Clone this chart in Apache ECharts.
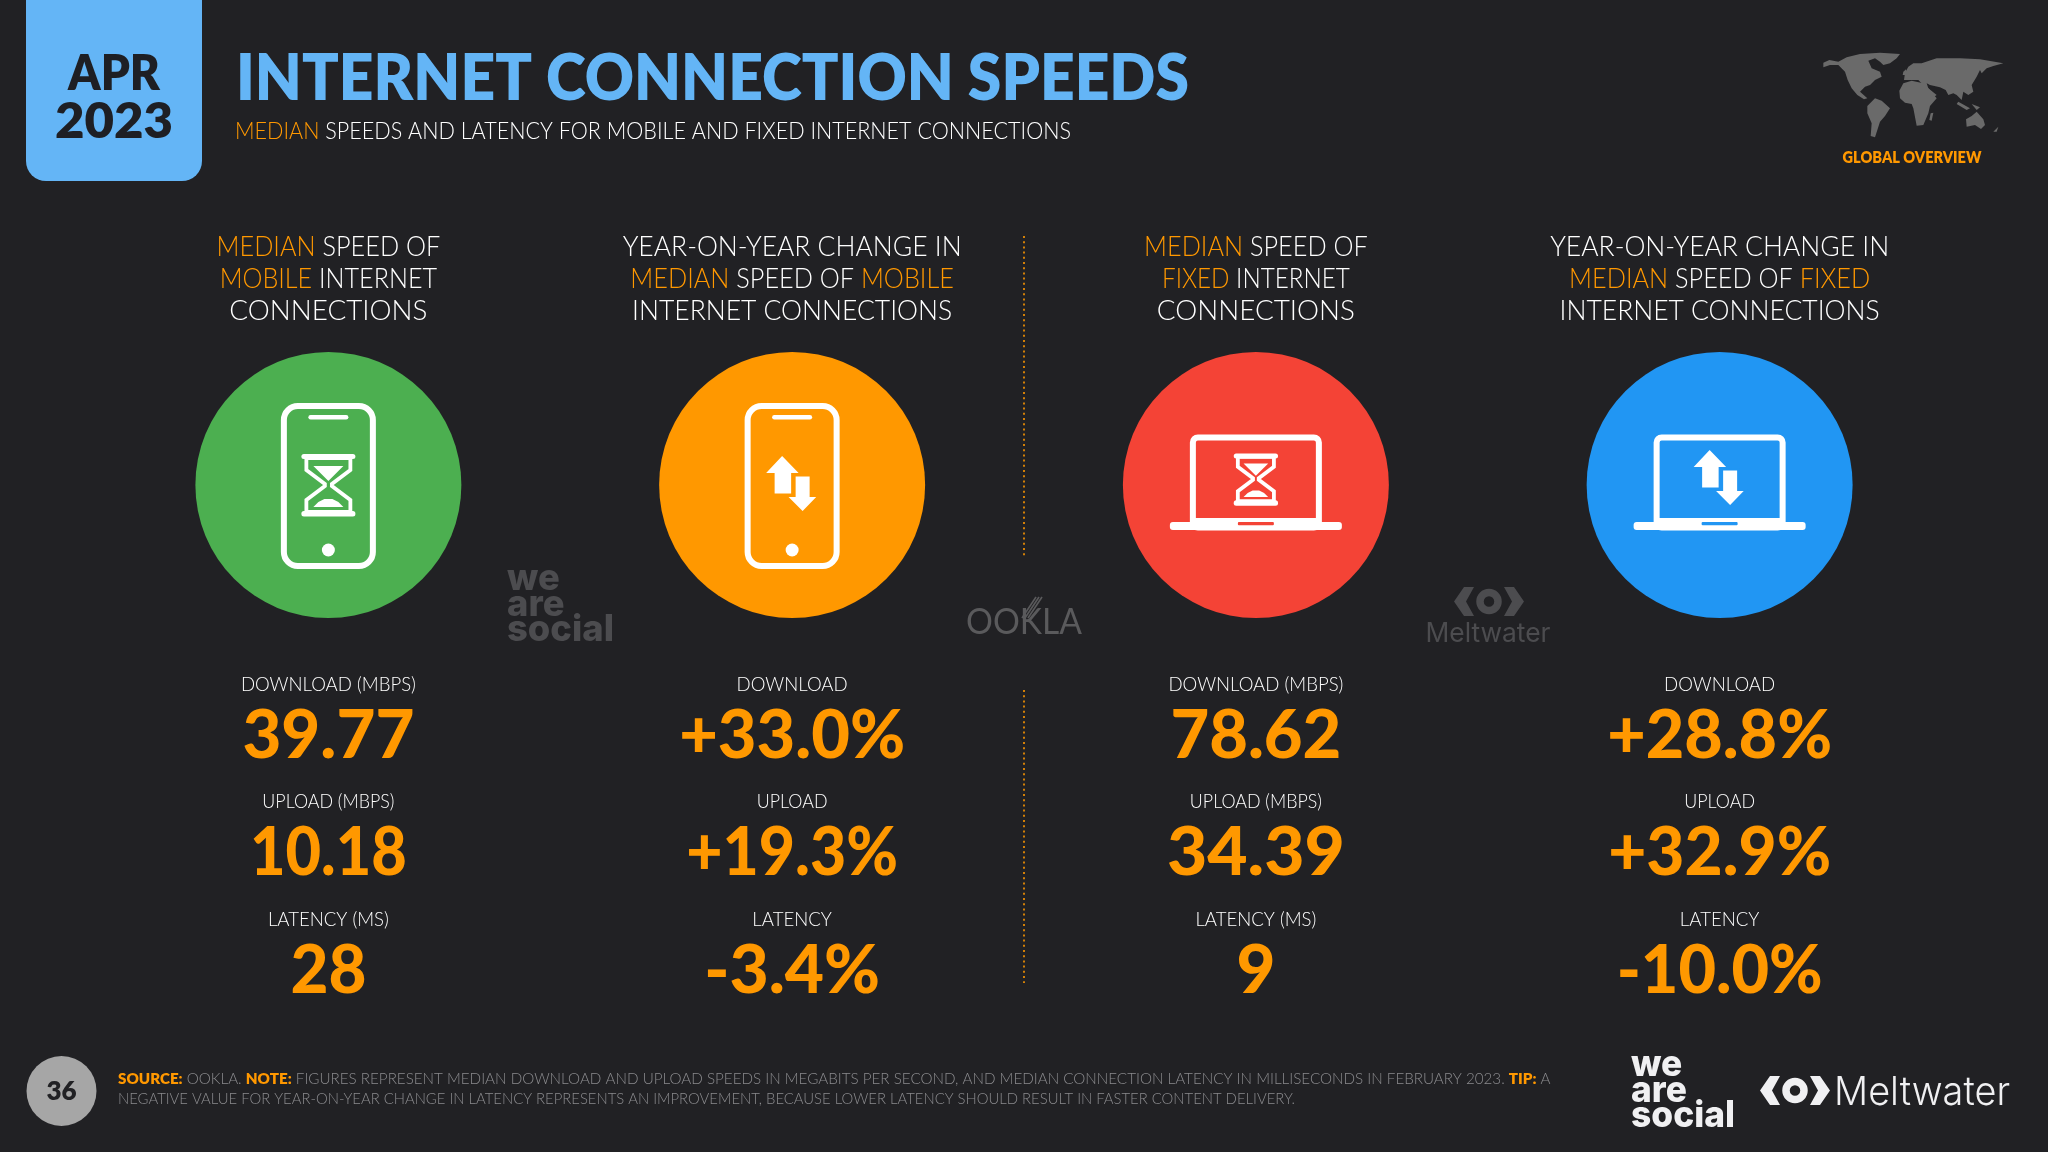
<!DOCTYPE html>
<html><head><meta charset="utf-8">
<style>html,body{margin:0;padding:0;background:#212124}#c{width:2048px;height:1152px}</style>
<script src="https://cdn.jsdelivr.net/npm/echarts@6/dist/echarts.min.js"></script>
</head><body><div id="c"></div>
<script>
// ---- data ----
const columns = ['mobile speed', 'mobile change', 'fixed speed', 'fixed change'];
const rows = ['download', 'upload', 'latency'];
const circleColors = ['#4caf50', '#ff9800', '#f44336', '#2196f3'];
const iconKinds = ['phone-hourglass', 'phone-arrows', 'laptop-hourglass', 'laptop-arrows'];
const headings = [
  ['{o|MEDIAN}{w| SPEED OF}', '{o|MOBILE}{w| INTERNET}', '{w|CONNECTIONS}'],
  ['{w|YEAR-ON-YEAR CHANGE IN}', '{o|MEDIAN}{w| SPEED OF }{o|MOBILE}', '{w|INTERNET CONNECTIONS}'],
  ['{o|MEDIAN}{w| SPEED OF}', '{o|FIXED}{w| INTERNET}', '{w|CONNECTIONS}'],
  ['{w|YEAR-ON-YEAR CHANGE IN}', '{o|MEDIAN}{w| SPEED OF }{o|FIXED}', '{w|INTERNET CONNECTIONS}']
];
const metricDownload = ['DOWNLOAD (MBPS)', 'DOWNLOAD', 'DOWNLOAD (MBPS)', 'DOWNLOAD'];
const metricUpload = ['UPLOAD (MBPS)', 'UPLOAD', 'UPLOAD (MBPS)', 'UPLOAD'];
const metricLatency = ['LATENCY (MS)', 'LATENCY', 'LATENCY (MS)', 'LATENCY'];
const valueDownload = ['39.77', '+33.0%', '78.62', '+28.8%'];
const valueUpload = ['10.18', '+19.3%', '34.39', '+32.9%'];
const valueLatency = ['28', '-3.4%', '9', '-10.0%'];
const metricTable = [metricDownload, metricUpload, metricLatency];
const valueTable = [valueDownload, valueUpload, valueLatency];

// ---- styling helpers ----
const ORANGE = '#ff9800', BLUE = '#64b5f6', BG = '#212124', DARK = '#1e1f24';
const ctx = document.createElement('canvas').getContext('2d');
function fit(text, weight, size, family, target) {
  ctx.font = weight + ' ' + size + 'px ' + family;
  return target / ctx.measureText(text).width;
}
function gText(text, x, y, o) {
  return { type: 'text', x, y, scaleX: o.sx || 1, silent: true, z: 5, style: Object.assign({
    text, fill: o.fill || '#fff', fontFamily: o.family || 'Lato', fontWeight: o.weight || 400,
    fontSize: o.size, align: o.align || 'left', verticalAlign: 'middle' }, o.extra || {}) };
}
function rich(size, weight, hi, base, boldBase) {
  return {
    o: { fill: hi, fontFamily: 'Lato', fontSize: size, fontWeight: weight },
    w: { fill: base, fontFamily: 'Lato', fontSize: size, fontWeight: weight },
    b: { fill: hi, fontFamily: 'Lato', fontSize: size, fontWeight: boldBase || 800 }
  };
}
const headSx = fit('YEAR-ON-YEAR CHANGE IN', 300, 28, 'Lato', 339);
const metricSx = fit('DOWNLOAD (MBPS)', 300, 19, 'Lato', 175);
// typeset width tuning: the substitute font's proportions differ per string
function headingTune(line) {
  if (line === '{w|CONNECTIONS}') return 1.05;
  if (line.indexOf('{o|FIXED}{w| INTERNET}') === 0) return 0.915;
  if (line.indexOf('{o|MOBILE}{w| INTERNET}') === 0) return 0.95;
  if (line.indexOf('{o|MEDIAN}') === 0) return 0.955;
  return 1;
}
const valueTextWidths = { '39.77': 172, '+33.0%': 226, '10.18': 157, '+19.3%': 212, '28': 76, '-3.4%': 176,
  '78.62': 171, '34.39': 178, '9': 39, '+28.8%': 225, '+32.9%': 223, '-10.0%': 206 };

// ---- icon shapes ----
function arrows(cy, fill) {
  return [
    { type: 'polygon', shape: { points: [[-10, cy - 29], [6.5, cy - 12], [-1, cy - 12], [-1, cy + 8.5], [-17.5, cy + 8.5], [-17.5, cy - 12], [-26, cy - 12]] }, style: { fill: '#fff' } },
    { type: 'polygon', shape: { points: [[2.5, cy - 9.5], [18.5, cy - 9.5], [18.5, cy + 11], [26.5, cy + 11], [10.5, cy + 27.5], [-6, cy + 11], [2.5, cy + 11]] }, style: { fill: '#fff', stroke: fill, lineWidth: 2 } }
  ];
}
function hourglass(cy, k, fill) {
  const p = (a) => a.map(q => [q[0] * k, cy + q[1] * k]);
  return [
    { type: 'rect', shape: { x: -27 * k, y: cy - 31 * k, width: 54 * k, height: 5, r: 2.5 }, style: { fill: '#fff' } },
    { type: 'rect', shape: { x: -27 * k, y: cy + 26 * k, width: 54 * k, height: 5.5, r: 2.5 }, style: { fill: '#fff' } },
    { type: 'polygon', shape: { points: p([[-22, -27], [-22, -15], [-3.5, -1], [-3.5, 1], [-22, 15], [-22, 27], [22, 27], [22, 15], [3.5, 1], [3.5, -1], [22, -15], [22, -27]]) }, style: { fill: 'none', stroke: '#fff', lineWidth: 3.8 } },
    { type: 'polygon', shape: { points: p([[-15, -19], [15, -19], [0, -4]]) }, style: { fill: '#fff' } },
    { type: 'polygon', shape: { points: p([[-15, 22], [-10, 17], [-4, 14], [4, 14], [10, 17], [15, 22]]) }, style: { fill: '#fff' } }
  ];
}
function phone(fill) {
  return [
    { type: 'rect', shape: { x: -44.5, y: -79, width: 89, height: 160, r: 14 }, style: { fill: 'none', stroke: '#fff', lineWidth: 6 } },
    { type: 'rect', shape: { x: -20, y: -70, width: 40, height: 4.5, r: 2.2 }, style: { fill: '#fff' } },
    { type: 'circle', shape: { cx: 0, cy: 65, r: 6.5 }, style: { fill: '#fff' } }
  ];
}
function laptop(fill) {
  return [
    { type: 'rect', shape: { x: -63, y: -47.5, width: 126, height: 90, r: 5 }, style: { fill: 'none', stroke: '#fff', lineWidth: 6 } },
    { type: 'rect', shape: { x: -86, y: 37, width: 172, height: 8, r: 3 }, style: { fill: '#fff' } },
    { type: 'rect', shape: { x: -63, y: 33, width: 126, height: 6, r: 0 }, style: { fill: '#fff' } },
    { type: 'rect', shape: { x: -18, y: 37, width: 36, height: 3.2, r: 1 }, style: { fill: fill } }
  ];
}
function renderIcon(params, api) {
  const i = params.dataIndex, c = api.coord([i, 0]), kind = iconKinds[i], fill = circleColors[i];
  let ch = kind.startsWith('phone') ? phone(fill) : laptop(fill);
  const cy = kind.startsWith('phone') ? 0 : -6;
  ch = ch.concat(kind.endsWith('arrows') ? arrows(cy, fill) : hourglass(cy, kind.startsWith('phone') ? 1 : 0.82, fill));
  return { type: 'group', x: c[0], y: c[1], children: ch, silent: true };
}
function renderHeadings(params, api) {
  const i = params.dataIndex, c = api.coord([i, 0]);
  return { type: 'group', x: c[0], y: c[1], silent: true, children: headings[i].map((line, n) => ({
    type: 'text', x: 0, y: -238 + n * 32, scaleX: headSx * headingTune(line),
    style: { text: line, align: 'center', verticalAlign: 'middle', rich: rich(28, 300, ORANGE, '#fff') }
  })) };
}
function renderCell(params, api) {
  const col = api.value(0), row = api.value(1), c = api.coord([col, row]);
  const val = valueTable[row][col];
  return { type: 'group', x: c[0], y: c[1], silent: true, children: [
    { type: 'text', x: 0, y: -49, scaleX: metricSx * (row === 1 ? 0.96 : 1), style: { text: metricTable[row][col], fill: '#fff', fontFamily: 'Lato', fontWeight: 300, fontSize: 19, align: 'center', verticalAlign: 'middle' } },
    { type: 'text', x: 0, y: 2.5, scaleX: fit(val, 900, 66, 'Lato', valueTextWidths[val]), style: { text: val, fill: ORANGE, fontFamily: 'Lato', fontWeight: 900, fontSize: 66, align: 'center', verticalAlign: 'middle' } }
  ] };
}

// ---- logos ----
function wasLogo(x, y, fill, w) {
  const sx = fit('social', 800, 37, 'Inter', w);
  return ['we', 'are', 'social'].map((s, n) => gText(s, x, y + n * 25.5, { fill, family: 'Inter', weight: 800, size: 37, sx }));
}
function mwLogo(cx, cy, fill) {
  const L = [[-15, -14.5], [-25, -14.5], [-35, 0], [-25, 14.5], [-15, 14.5], [-23, 0]];
  const R = L.map(p => [-p[0], p[1]]);
  return { type: 'group', x: cx, y: cy, silent: true, z: 5, children: [
    { type: 'polygon', shape: { points: L }, style: { fill } },
    { type: 'polygon', shape: { points: R }, style: { fill } },
    { type: 'circle', shape: { cx: 0, cy: 0, r: 9 }, style: { fill: 'none', stroke: fill, lineWidth: 7.5 } }
  ] };
}
const mapPolys = [
  [[130,98],[148,90],[175,95],[200,82],[240,72],[300,68],[360,72],[350,85],[330,100],[310,105],[300,95],[285,85],[265,92],[275,115],[300,125],[305,140],[285,150],[270,165],[255,170],[240,185],[262,205],[252,208],[232,195],[215,175],[203,150],[195,125],[175,105],[150,105],[130,112]],
  [[262,228],[285,205],[305,212],[330,235],[315,258],[300,275],[285,322],[272,318],[275,280],[262,250]],
  [[375,128],[385,110],[400,100],[425,100],[470,85],[540,85],[600,88],[670,100],[640,108],[620,115],[605,130],[600,120],[590,140],[575,165],[580,185],[565,195],[550,185],[545,210],[530,195],[520,190],[505,195],[497,180],[480,172],[450,165],[440,160],[445,175],[470,195],[455,205],[435,170],[415,150],[400,150],[385,150],[372,150]],
  [[358,182],[370,160],[395,152],[430,160],[445,175],[470,205],[450,228],[445,250],[430,285],[410,287],[400,235],[395,222],[375,218],[360,205]],
  [[452,250],[460,248],[455,272],[448,270]],
  [[558,268],[575,258],[590,245],[610,268],[615,285],[603,297],[585,285],[560,290]],
  [[535,215],[570,235],[560,240],[530,222]],
  [[575,222],[600,232],[590,240]],
  [[640,305],[655,290],[650,305]],
  [[370,125],[378,118],[378,135],[368,135]]
];

const footGrey = '#8b8b8e';
const footRich = rich(15.5, 300, ORANGE, footGrey);
const line2 = 'NEGATIVE VALUE FOR YEAR-ON-YEAR CHANGE IN LATENCY REPRESENTS AN IMPROVEMENT, BECAUSE LOWER LATENCY SHOULD RESULT IN FASTER CONTENT DELIVERY.';
const footSx = fit(line2, 300, 15.5, 'Lato', 1177);

const graphics = [
  { type: 'rect', shape: { x: 26, y: -30, width: 176, height: 211, r: 20 }, style: { fill: BLUE }, silent: true },
  gText('APR', 114, 74, { fill: DARK, weight: 800, size: 50, align: 'center', sx: fit('APR', 800, 50, 'Lato', 92) }),
  gText('2023', 114, 122, { fill: DARK, weight: 800, size: 50, align: 'center', sx: fit('2023', 800, 50, 'Lato', 118) }),
  gText('INTERNET CONNECTION SPEEDS', 236, 79, { fill: BLUE, weight: 800, size: 64, sx: fit('INTERNET CONNECTION SPEEDS', 800, 64, 'Lato', 953) }),
  gText('{o|MEDIAN}{w| SPEEDS AND LATENCY FOR MOBILE AND FIXED INTERNET CONNECTIONS}', 235, 131, {
    size: 23.5, sx: fit('MEDIAN SPEEDS AND LATENCY FOR MOBILE AND FIXED INTERNET CONNECTIONS', 300, 23.5, 'Lato', 836),
    extra: { rich: rich(23.5, 300, ORANGE, '#fff') } }),
  { type: 'group', x: 1780, y: 30, scaleX: 1 / 3, scaleY: 1 / 3, silent: true, children: mapPolys.map(points => ({ type: 'polygon', shape: { points }, style: { fill: '#6a6a6a' } })) },
  gText('GLOBAL OVERVIEW', 1912, 158, { fill: ORANGE, weight: 800, size: 16, align: 'center', sx: fit('GLOBAL OVERVIEW', 800, 16, 'Lato', 139) }),
  { type: 'line', shape: { x1: 1024, y1: 236, x2: 1024, y2: 556 }, style: { stroke: ORANGE, lineWidth: 1.6, lineDash: [2, 3.2] }, silent: true },
  { type: 'line', shape: { x1: 1024, y1: 690, x2: 1024, y2: 983 }, style: { stroke: ORANGE, lineWidth: 1.6, lineDash: [2, 3.2] }, silent: true },
  ...wasLogo(507, 579, '#4c4c4f', 107),
  gText('OOKLA', 1024, 622, { fill: '#5a5a5c', weight: 400, size: 36, align: 'center', sx: fit('OOKLA', 400, 36, 'Lato', 116) }),
  { type: 'group', silent: true, children: [0, 5, 10].map(d => ({ type: 'line', shape: { x1: 1022 + d * 0.6, y1: 618, x2: 1036 + d * 0.6, y2: 597 }, style: { stroke: '#5a5a5c', lineWidth: 1.6 } })) },
  mwLogo(1489, 601.5, '#4c4c4f'),
  gText('Meltwater', 1488, 634, { fill: '#4c4c4f', family: 'Inter', weight: 400, size: 27, align: 'center', sx: fit('Meltwater', 400, 27, 'Inter', 125) }),
  { type: 'circle', shape: { cx: 61.5, cy: 1091, r: 35 }, style: { fill: '#a6a6a6' }, silent: true },
  gText('36', 61.5, 1092, { fill: '#212124', weight: 800, size: 26, align: 'center' }),
  gText('{b|SOURCE:}{w| OOKLA. }{b|NOTE:}{w| FIGURES REPRESENT MEDIAN DOWNLOAD AND UPLOAD SPEEDS IN MEGABITS PER SECOND, AND MEDIAN CONNECTION LATENCY IN MILLISECONDS IN FEBRUARY 2023. }{b|TIP:}{w| A}', 118, 1079, { size: 15.5, sx: footSx * 1.023, extra: { rich: footRich } }),
  gText(line2, 118, 1099, { size: 15.5, weight: 300, fill: footGrey, sx: footSx }),
  ...wasLogo(1631, 1065, '#f0f0f2', 104),
  mwLogo(1795, 1090.5, '#f0f0f2'),
  gText('Meltwater', 1834, 1093, { fill: '#f0f0f2', family: 'Inter', weight: 300, size: 40, sx: fit('Meltwater', 300, 40, 'Inter', 176) })
];

const cells = [];
rows.forEach((r, ri) => columns.forEach((c, ci) => cells.push([ci, ri])));
const onePerColumn = columns.map((c, i) => [i, 0]);

const chart = echarts.init(document.getElementById('c'), null, { width: 2048, height: 1152 });
chart.setOption({
  backgroundColor: BG,
  animation: false,
  tooltip: { show: false },
  grid: [
    { left: 96.5, width: 1855, top: 352, height: 266 },
    { left: 96.5, width: 1855, top: 675, height: 352.5 }
  ],
  xAxis: [
    { type: 'category', gridIndex: 0, data: columns, show: false },
    { type: 'category', gridIndex: 1, data: columns, show: false }
  ],
  yAxis: [
    { type: 'category', gridIndex: 0, data: ['icon'], show: false },
    { type: 'category', gridIndex: 1, data: rows, inverse: true, show: false }
  ],
  graphic: { elements: graphics },
  series: [
    { type: 'scatter', name: 'circles', xAxisIndex: 0, yAxisIndex: 0, symbolSize: 266, silent: true,
      data: onePerColumn.map((d, i) => ({ value: d, itemStyle: { color: circleColors[i], opacity: 1 } })) },
    { type: 'custom', name: 'icons', xAxisIndex: 0, yAxisIndex: 0, z: 4, silent: true, renderItem: renderIcon, data: onePerColumn },
    { type: 'custom', name: 'headings', xAxisIndex: 0, yAxisIndex: 0, z: 4, silent: true, renderItem: renderHeadings, data: onePerColumn },
    { type: 'custom', name: 'metrics', xAxisIndex: 1, yAxisIndex: 1, z: 4, silent: true, renderItem: renderCell, data: cells }
  ]
});
</script></body></html>
